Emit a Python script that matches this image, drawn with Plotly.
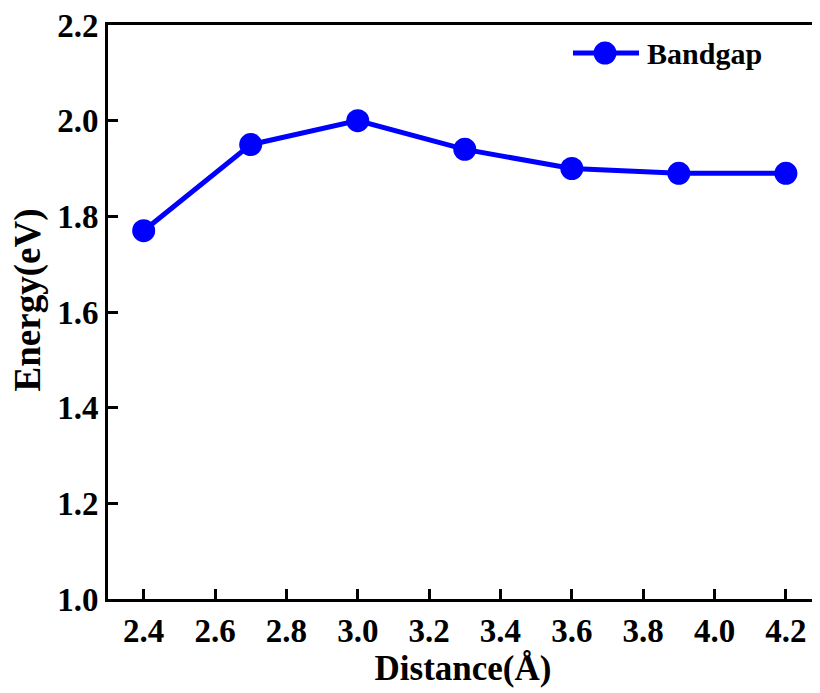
import plotly.graph_objects as go

distance = [2.4, 2.7, 3.0, 3.3, 3.6, 3.9, 4.2]
bandgap = [1.77, 1.95, 2.00, 1.94, 1.90, 1.89, 1.89]
x_ticks = [2.4, 2.6, 2.8, 3.0, 3.2, 3.4, 3.6, 3.8, 4.0, 4.2]
y_ticks = [1.0, 1.2, 1.4, 1.6, 1.8, 2.0, 2.2]
series_name = "Bandgap"

FONT = "Liberation Serif, Times New Roman, serif"
BLUE = "#0000FF"

fig = go.Figure()
fig.add_trace(go.Scatter(
    x=distance, y=bandgap, mode="lines+markers", name=series_name,
    line=dict(color=BLUE, width=5),
    marker=dict(color=BLUE, size=23),
    showlegend=False,
))

axis_common = dict(
    showgrid=False, zeroline=False, showline=True, linecolor="black", linewidth=3,
    mirror=True, ticks="inside", ticklen=10, tickwidth=3, tickcolor="black",
    automargin=False, ticklabeloverflow="allow",
    tickfont=dict(family=FONT, size=33, color="black", weight="bold"),
)

fig.update_xaxes(
    range=[2.3, 4.29], tickvals=x_ticks, ticktext=[f"{v:.1f}" for v in x_ticks],
    title=dict(text="Distance(Å)", font=dict(family=FONT, size=35, color="black", weight="bold"), standoff=2),
    **axis_common,
)
fig.update_yaxes(
    range=[1.0, 2.2], tickvals=y_ticks, ticktext=[f"{v:.1f}" for v in y_ticks],
    **axis_common,
)

# y-axis title
fig.add_annotation(
    text="Energy(eV)", xref="paper", yref="paper", x=-0.1134, y=0.521,
    xanchor="center", yanchor="middle", textangle=-90, showarrow=False,
    font=dict(family=FONT, size=37, color="black", weight="bold"),
)

# legend (drawn manually so the marker matches the data marker size)
LY = 0.9512
fig.add_shape(type="line", xref="paper", yref="paper", x0=0.6549, x1=0.7479, y0=LY, y1=LY,
              line=dict(color=BLUE, width=5))
fig.add_shape(type="circle", xref="paper", yref="paper", xsizemode="pixel", ysizemode="pixel",
              xanchor=0.7, yanchor=LY, x0=-11.5, x1=11.5, y0=-11.5, y1=11.5,
              fillcolor=BLUE, line=dict(color=BLUE, width=0))
fig.add_annotation(
    text=series_name, xref="paper", yref="paper", x=0.7563, y=LY,
    xanchor="left", yanchor="middle", showarrow=False,
    font=dict(family=FONT, size=30, color="black", weight="bold"),
)

fig.update_layout(
    width=812, height=685,
    margin=dict(l=100, r=2, t=17, b=94),
    paper_bgcolor="white", plot_bgcolor="white",
    showlegend=False,
)

fig.write_html("out.html")
